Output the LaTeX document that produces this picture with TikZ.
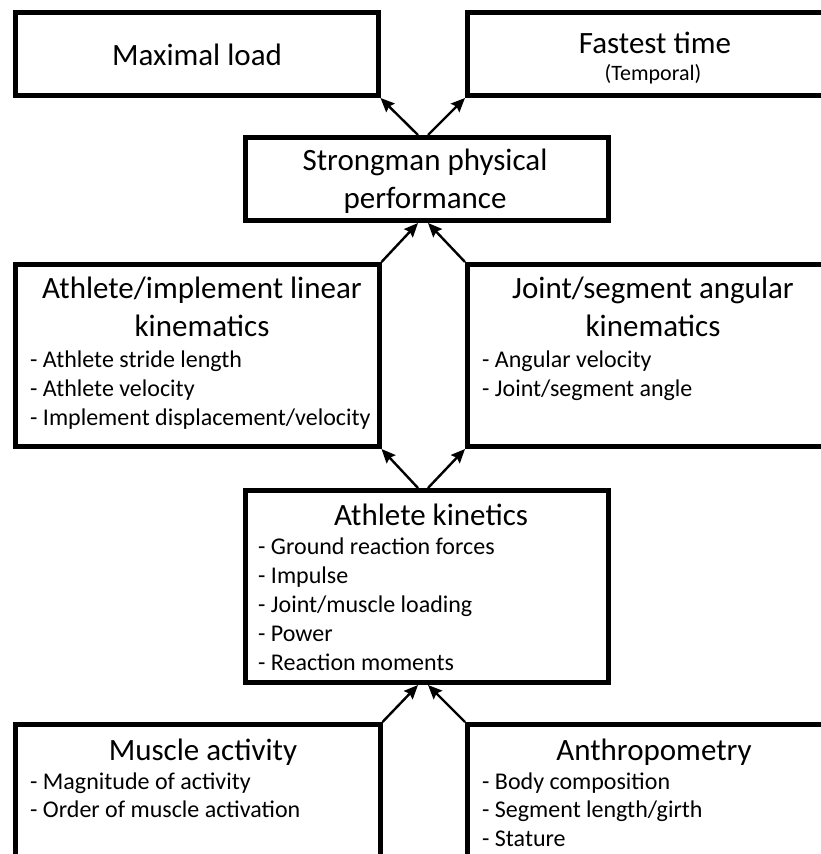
\documentclass[tikz,border=0pt]{standalone}
\usepackage{fontspec}
\setmainfont{Carlito}
\usetikzlibrary{arrows.meta,calc}
\begin{document}
\begin{tikzpicture}[x=1pt,y=-1pt,
  box/.style={draw=black, line width=5pt, rectangle, inner sep=0pt},
  ttl/.style={font=\fontsize{31}{38}\selectfont, inner sep=0pt, anchor=base},
  sml/.style={font=\fontsize{22}{26}\selectfont, inner sep=0pt, anchor=base},
  bul/.style={font=\fontsize{24}{29}\selectfont, inner sep=0pt, anchor=base west},
  arr/.style={line width=2.4pt, -{Stealth[length=14pt,width=12pt,inset=2pt]}}
]
\useasboundingbox (0,0) rectangle (821,854);
\clip (0,0) rectangle (821,854);
\fill[white] (0,0) rectangle (821,854);

% boxes
\node[box, minimum width=362.5pt, minimum height=83pt] (maxl) at (196.75,54) {};
\node[box, minimum width=363.5pt, minimum height=83pt] (fast) at (649.25,54) {};
\node[box, minimum width=363pt, minimum height=83pt] (strong) at (426.5,179) {};
\node[box, minimum width=363.5pt, minimum height=182pt] (lin) at (197.25,355.5) {};
\node[box, minimum width=363.5pt, minimum height=182pt] (ang) at (649.25,355.5) {};
\node[box, minimum width=363pt, minimum height=192pt] (kin) at (426.5,586.5) {};
\node[box, minimum width=364.5pt, minimum height=150pt] (mus) at (197.75,799.5) {};
\node[box, minimum width=363.5pt, minimum height=150pt] (anth) at (649.25,799.5) {};

% texts
\node[ttl] (tmaxl) at (197,65) {Maximal load};
\node[ttl] (tfast) at (655,53) {Fastest time};
\node[sml] (ttemp) at (653,80) {(Temporal)};

\node[ttl] (tstr1) at (425,170) {Strongman physical};
\node[ttl] (tstr2) at (425,208) {performance};

\node[ttl] (tlin1) at (202,298) {Athlete/implement linear};
\node[ttl] (tlin2) at (202,336) {kinematics};
\node[bul] (blin1) at (30,367) {- Athlete stride length};
\node[bul] (blin2) at (30,396) {- Athlete velocity};
\node[bul] (blin3) at (30,425) {- Implement displacement/velocity};

\node[ttl] (tang1) at (653,298) {Joint/segment angular};
\node[ttl] (tang2) at (653,336) {kinematics};
\node[bul] (bang1) at (482,367) {- Angular velocity};
\node[bul] (bang2) at (482,396) {- Joint/segment angle};

\node[ttl] (tkin) at (431,525) {Athlete kinetics};
\node[bul] (bkin1) at (258,554) {- Ground reaction forces};
\node[bul] (bkin2) at (258,583) {- Impulse};
\node[bul] (bkin3) at (258,612) {- Joint/muscle loading};
\node[bul] (bkin4) at (258,641) {- Power};
\node[bul] (bkin5) at (258,670) {- Reaction moments};

\node[ttl] (tmus) at (203,760) {Muscle activity};
\node[bul] (bmus1) at (30,789) {- Magnitude of activity};
\node[bul] (bmus2) at (30,817) {- Order of muscle activation};

\node[ttl] (tanth) at (654,760) {Anthropometry};
\node[bul] (banth1) at (482,789) {- Body composition};
\node[bul] (banth2) at (482,817) {- Segment length/girth};
\node[bul] (banth3) at (482,846) {- Stature};

% connectors
\draw[arr] ($(strong.north)+(-8.5,0)$) -- (maxl.south east);
\draw[arr] ($(strong.north)+(1.5,0)$) -- (fast.south west);
\draw[arr] (lin.north east) -- ($(strong.south)+(-8.5,0)$);
\draw[arr] (ang.north west) -- ($(strong.south)+(1.5,0)$);
\draw[arr] ($(kin.north)+(-8.5,0)$) -- (lin.south east);
\draw[arr] ($(kin.north)+(1.5,0)$) -- (ang.south west);
\draw[arr] (mus.north east) -- ($(kin.south)+(-8.5,0)$);
\draw[arr] (anth.north west) -- ($(kin.south)+(1.5,0)$);
\end{tikzpicture}
\end{document}
